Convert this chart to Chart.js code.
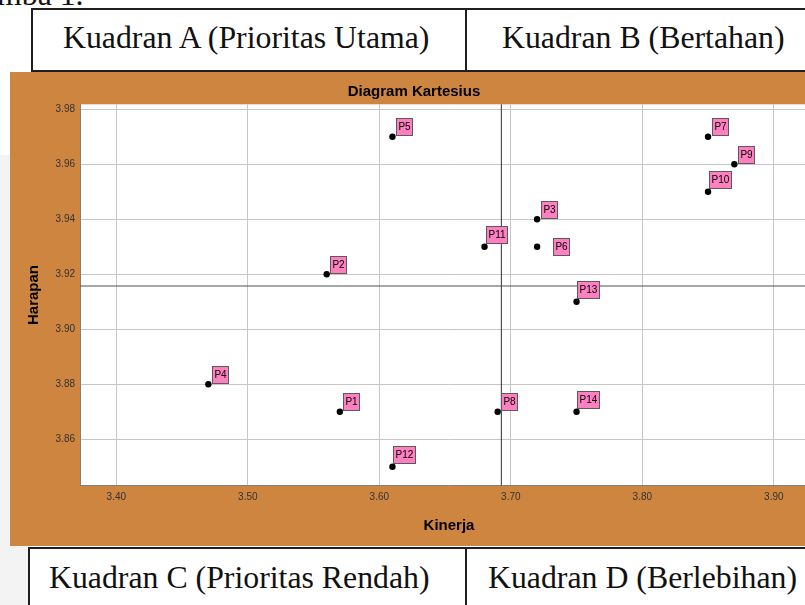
<!DOCTYPE html>
<html>
<head>
<meta charset="utf-8">
<script src="https://cdn.jsdelivr.net/npm/chart.js@4.4.1/dist/chart.umd.min.js"></script>
<style>
  html, body { margin: 0; padding: 0; background: #fff; overflow: hidden; }
  .page { position: relative; width: 805px; height: 605px; overflow: hidden; }
  .grey { position: absolute; left: 0; top: 155px; width: 28px; height: 450px; background: #f3f3f3; }
  .word { position: absolute; font-family: "Liberation Serif", "Times New Roman", serif; font-size: 31.8px;
          line-height: 1; color: #111; white-space: nowrap; }
  .cell { position: absolute; box-sizing: border-box; border: 2px solid #1e1e1e; background: #fff; }
  .rule { position: absolute; width: 2px; background: #1e1e1e; }
  .panel { position: absolute; left: 10px; top: 72px; width: 820px; height: 474px; background: #cd853f; }
</style>
</head>
<body>
<div class="page">
  <div class="grey"></div>
  <div class="word" style="left:-3px; top:-21px;">mba 1.</div>

  <div class="cell" style="left:31px; top:8px; width:800px; height:64px;"></div>
  <div class="rule" style="left:465px; top:8px; height:64px;"></div>
  <div class="word" style="left:63px; top:22px;">Kuadran A (Prioritas Utama)</div>
  <div class="word" style="left:502px; top:22px;">Kuadran B (Bertahan)</div>

  <div class="panel"><canvas id="kartesius" width="820" height="474"></canvas></div>

  <div class="cell" style="left:28px; top:547px; width:800px; height:100px;"></div>
  <div class="rule" style="left:465px; top:547px; height:100px;"></div>
  <div class="word" style="left:49px; top:562px;">Kuadran C (Prioritas Rendah)</div>
  <div class="word" style="left:488px; top:562px;">Kuadran D (Berlebihan)</div>
</div>

<script>
// data
const names = ["P1", "P2", "P3", "P4", "P5", "P6", "P7", "P8", "P9", "P10", "P11", "P12", "P13", "P14"];
const kinerja = [3.57, 3.56, 3.72, 3.47, 3.61, 3.72, 3.85, 3.69, 3.87, 3.85, 3.68, 3.61, 3.75, 3.75];
const harapan = [3.87, 3.92, 3.94, 3.88, 3.97, 3.93, 3.97, 3.87, 3.96, 3.95, 3.93, 3.85, 3.91, 3.87];
const xTicks = [3.4, 3.5, 3.6, 3.7, 3.8, 3.9];
const yTicks = [3.86, 3.88, 3.9, 3.92, 3.94, 3.96, 3.98];

const avg = (arr) => arr.reduce((a, b) => a + b, 0) / arr.length;
const meanX = avg(kinerja);
const meanY = avg(harapan);

const sans = "Arial, 'Liberation Sans', sans-serif";

// label P6 sits to the right of its point
const labelShift = { P6: [24, -0.5] };

const plotBg = {
  id: "plotBg",
  beforeDraw(chart) {
    const { ctx, chartArea: a } = chart;
    ctx.save();
    ctx.fillStyle = "#ffffff";
    ctx.fillRect(a.left, a.top, a.width, a.height);
    ctx.restore();
  },
};

const meanLines = {
  id: "meanLines",
  beforeDatasetsDraw(chart) {
    const { ctx, chartArea: a, scales } = chart;
    const px = scales.x.getPixelForValue(meanX);
    const py = scales.y.getPixelForValue(meanY);
    ctx.save();
    ctx.strokeStyle = "#505050";
    ctx.lineWidth = 1.2;
    ctx.beginPath();
    ctx.moveTo(px, a.top);
    ctx.lineTo(px, a.bottom);
    ctx.moveTo(a.left, py);
    ctx.lineTo(a.right, py);
    ctx.stroke();
    ctx.restore();
  },
};

const pointLabels = {
  id: "pointLabels",
  afterDatasetsDraw(chart) {
    const { ctx } = chart;
    const pts = chart.getDatasetMeta(0).data;
    ctx.save();
    ctx.font = "10px " + sans;
    ctx.textAlign = "center";
    ctx.textBaseline = "middle";
    pts.forEach((p, i) => {
      const name = names[i];
      const shift = labelShift[name] || [11.5, name.length > 2 ? -12 : -10];
      const cx = p.x + shift[0];
      const cy = p.y + shift[1];
      const w = Math.round(ctx.measureText(name).width + 4);
      const h = 17;
      const left = Math.round(cx - w / 2) + 0.5;
      const top = Math.round(cy - h / 2) + 0.5;
      ctx.fillStyle = "#ff80c0";
      ctx.fillRect(left, top, w, h);
      ctx.strokeStyle = "#5a5a5a";
      ctx.lineWidth = 1;
      ctx.strokeRect(left, top, w, h);
      ctx.fillStyle = "#000";
      ctx.fillText(name, left + w / 2, top + h / 2 + 0.5);
    });
    ctx.restore();
  },
};

const canvas = document.getElementById("kartesius");

new Chart(canvas, {
  type: "scatter",
  data: {
    datasets: [
      {
        label: "Atribut",
        data: kinerja.map((x, i) => ({ x: x, y: harapan[i] })),
        pointRadius: 3.2,
        pointBackgroundColor: "#000",
        pointBorderWidth: 0,
      },
    ],
  },
  options: {
    responsive: false,
    animation: false,
    devicePixelRatio: 1,
    layout: { padding: { left: 0, top: 0, right: 12, bottom: 0 } },
    plugins: {
      legend: { display: false },
      tooltip: { enabled: false },
      title: {
        display: true,
        text: "Diagram Kartesius",
        color: "#000",
        font: { family: sans, size: 15, weight: "bold" },
        padding: { top: 11.3, bottom: 3 },
      },
    },
    scales: {
      x: {
        type: "linear",
        position: "bottom",
        min: 3.3724,
        max: 3.9336,
        afterBuildTicks: (s) => {
          s.ticks = xTicks.map((v) => ({ value: v }));
        },
        afterFit: (s) => {
          s.height = 60.3;
        },
        ticks: {
          callback: (v) => Number(v).toFixed(2),
          font: { family: sans, size: 10 },
          color: "#333",
          padding: 6,
          maxRotation: 0,
          autoSkip: false,
        },
        grid: { color: "#c6c6c6", drawTicks: false },
        border: { color: "#808080" },
        title: {
          display: true,
          text: "Kinerja",
          color: "#000",
          font: { family: sans, size: 15, weight: "bold" },
          padding: { top: 0, bottom: 11.3 },
        },
      },
      y: {
        type: "linear",
        position: "left",
        min: 3.8431,
        max: 3.9818,
        afterBuildTicks: (s) => {
          s.ticks = yTicks.map((v) => ({ value: v }));
        },
        afterFit: (s) => {
          s.width = 70;
        },
        ticks: {
          callback: (v) => Number(v).toFixed(2),
          font: { family: sans, size: 10 },
          color: "#333",
          padding: 5,
          autoSkip: false,
        },
        grid: { color: "#c6c6c6", drawTicks: false },
        border: { color: "#808080" },
        title: {
          display: true,
          text: "Harapan",
          color: "#000",
          font: { family: sans, size: 15, weight: "bold" },
          padding: { top: 15, bottom: 0 },
        },
      },
    },
  },
  plugins: [plotBg, meanLines, pointLabels],
});
</script>
</body>
</html>
